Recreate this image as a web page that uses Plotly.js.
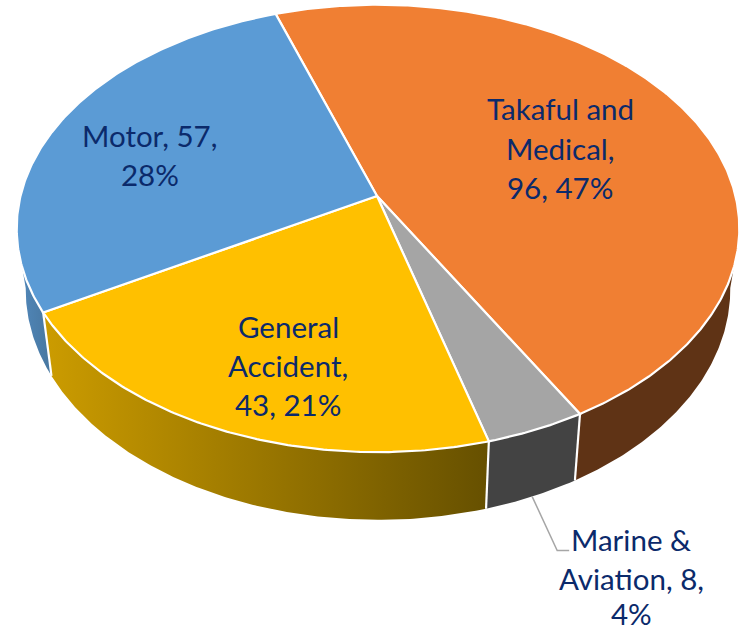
<!DOCTYPE html>
<html><head><meta charset="utf-8">
<script src="https://cdn.plot.ly/plotly-3.0.1.min.js"></script>
<style>html,body{margin:0;padding:0;background:#fff}#c{width:741px;height:633px}</style>
</head><body><div id="c"></div>
<script>
// DATA
const categories = ["Takaful and Medical", "Marine & Aviation", "General Accident", "Motor"];
const values = [96, 8, 43, 57];
const labelLines = [
  ["Takaful and", "Medical,", "96, 47%"],
  ["Marine &", "Aviation, 8,", "4%"],
  ["General", "Accident,", "43, 21%"],
  ["Motor, 57,", "28%"]
];
// STYLE
const topColors = ["#F07F33", "#A5A5A5", "#FFC000", "#5B9BD5"];
const wallGradients = [
  [[0, "#5F3315"], [1, "#5F3315"]],
  [[0, "#434343"], [1, "#434343"]],
  [[0, "#CC9C00"], [1, "#665000"]],
  [[0, "#5086B8"], [1, "#47769F"]]
];
const labelBoxes = [[560, [108, 148, 187]], [631, [539, 578, 613]], [288, [326, 365, 404]], [149.5, [135, 174]]];
const inkColor = "#0B2A6B";

// GEOMETRY: projective view of a unit disc
const apexX = 377, apexY = 196, rimDx = 1, A = 357.5, B = 219, k = -0.145;
const startDeg = 251, wallS = 0.975;
function topRim(deg) {
  const t = deg * Math.PI / 180, u = Math.cos(t), v = Math.sin(t), w = 1 + k * v;
  return [apexX + rimDx + A * u / w, apexY + B * v / w];
}
function bottomRim(deg) {
  const p = topRim(deg);
  return [apexX + wallS * (p[0] - apexX), p[1] + 60 + 0.03 * (p[1] - apexY)];
}
function arc(fn, a, b) {
  const n = Math.max(2, Math.ceil(Math.abs(b - a) / 0.5)), out = [];
  for (let i = 0; i <= n; i++) out.push(fn(a + (b - a) * i / n));
  return out;
}
const total = values.reduce((s, x) => s + x, 0);
let ang = startDeg;
const spans = values.map(v => { const a = ang; ang += v / total * 360; return [a, ang]; });

const traces = [];
const white = { color: "#FFFFFF", width: 2.2 };

// Walls (front half only)
const frontR = 360 + 18, frontRb = 360 + 8, frontL = 162 + 360, frontLb = 172 + 360;
spans.forEach((sp, i) => {
  let topPts, botPts;
  if (i === 0) {
    topPts = arc(topRim, frontR, sp[1]);
    botPts = arc(bottomRim, sp[1], frontRb);
  } else if (i === 3) {
    topPts = arc(topRim, sp[0], frontL);
    botPts = arc(bottomRim, frontLb, sp[0]);
  } else {
    topPts = arc(topRim, sp[0], sp[1]);
    botPts = arc(bottomRim, sp[1], sp[0]);
  }
  const pts = topPts.concat(botPts);
  pts.push(pts[0]);
  traces.push({
    type: "scatter", mode: "lines", x: pts.map(p => p[0]), y: pts.map(p => p[1]),
    fill: "toself", line: { width: 0, color: "rgba(0,0,0,0)" },
    fillgradient: { type: "horizontal", colorscale: wallGradients[i] },
    hoverinfo: "skip", showlegend: false, name: categories[i]
  });
});
// White seams on the walls between slices
[spans[0][1], spans[1][1], spans[2][1]].forEach(d => {
  const p = topRim(d), q = bottomRim(d);
  traces.push({ type: "scatter", mode: "lines", x: [p[0], q[0]], y: [p[1], q[1]], line: white, hoverinfo: "skip", showlegend: false });
});

// Top faces
spans.forEach((sp, i) => {
  const pts = [[apexX, apexY]].concat(arc(topRim, sp[0], sp[1])).concat([[apexX, apexY]]);
  traces.push({
    type: "scatter", mode: "lines", x: pts.map(p => p[0]), y: pts.map(p => p[1]),
    fill: "toself", fillcolor: topColors[i], line: white,
    hoverinfo: "text", text: categories[i] + ": " + values[i], showlegend: false, name: categories[i]
  });
});

// Leader for Marine & Aviation
const mid = bottomRim((spans[1][0] + spans[1][1]) / 2);
traces.push({ type: "scatter", mode: "lines", x: [mid[0], mid[0] + 25, mid[0] + 37], y: [mid[1], mid[1] + 54, mid[1] + 54],
  line: { color: "#A6A6A6", width: 1.5 }, hoverinfo: "skip", showlegend: false });

const annotations = [];
labelLines.forEach((lines, i) => {
  lines.forEach((s, j) => annotations.push({
    x: labelBoxes[i][0], y: labelBoxes[i][1][j], xref: "x", yref: "y", text: s, showarrow: false,
    xanchor: "center", yanchor: "middle", font: { family: "Lato, Carlito, sans-serif", size: 29.5, color: inkColor }
  }));
});

Plotly.newPlot("c", traces, {
  width: 741, height: 633, margin: { l: 0, r: 0, t: 0, b: 0 },
  paper_bgcolor: "#fff", plot_bgcolor: "#fff", showlegend: false,
  xaxis: { range: [0, 741], visible: false, fixedrange: true },
  yaxis: { range: [633, 0], visible: false, fixedrange: true },
  annotations
}, { displayModeBar: false, staticPlot: true });
</script></body></html>
